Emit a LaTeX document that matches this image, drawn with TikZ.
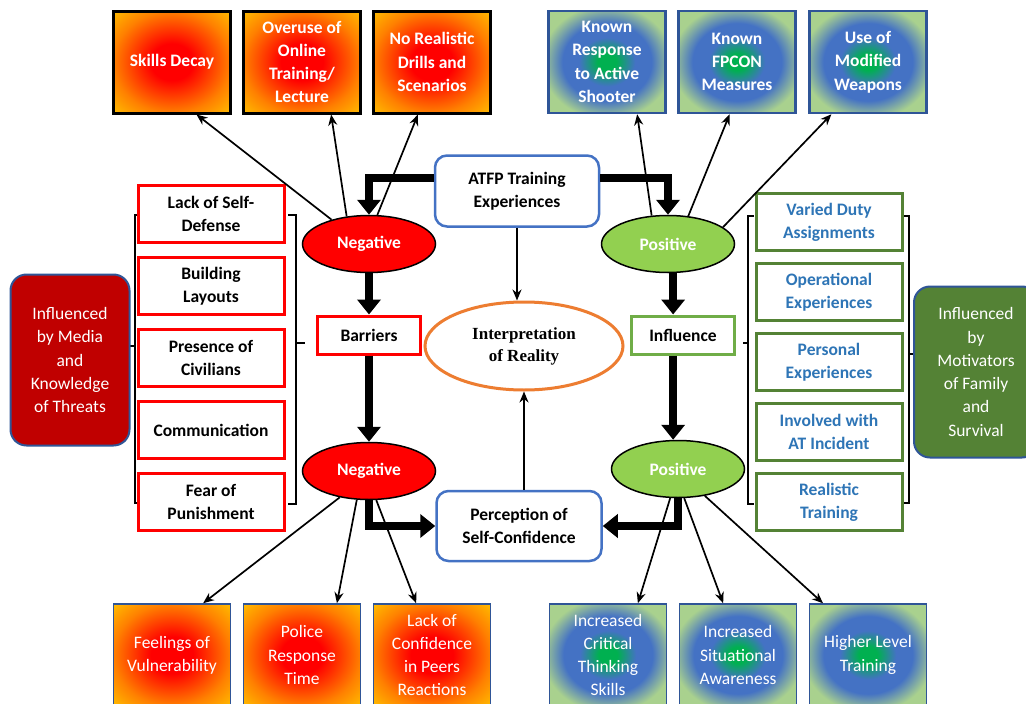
\documentclass[tikz,border=0pt]{standalone}
\usepackage{fontspec}
\setmainfont{Carlito}
\newfontfamily\interpfont{Liberation Serif}
\usepackage{tikz}
\usetikzlibrary{positioning}
\usetikzlibrary{arrows.meta}
\usetikzlibrary{shapes.geometric}
\usepackage{xcolor}

\definecolor{listred}{HTML}{FF0000}
\definecolor{negred}{HTML}{FF0000}
\definecolor{posgreen}{HTML}{92D050}
\definecolor{boxblue}{HTML}{4472C4}
\definecolor{edgeblue}{HTML}{2F5597}
\definecolor{interporange}{HTML}{ED7D31}
\definecolor{inflgreen}{HTML}{70AD47}
\definecolor{listgreen}{HTML}{548235}
\definecolor{listblue}{HTML}{2E75B6}
\definecolor{mediared}{HTML}{C00000}
\definecolor{familygreen}{HTML}{548235}
\definecolor{glowred}{HTML}{FF0000}
\definecolor{gloworange}{HTML}{FF8000}
\definecolor{glowyellow}{HTML}{FFC000}
\definecolor{glowgreen}{HTML}{00B050}
\definecolor{glowblue}{HTML}{4472C4}
\definecolor{glowlight}{HTML}{A9D18E}

\pgfdeclareradialshading{redglow}{\pgfpointorigin}{color(0bp)=(glowred); color(9bp)=(glowred); color(25bp)=(gloworange); color(36bp)=(glowyellow); color(50bp)=(glowyellow)}
\pgfdeclareradialshading{greenglow}{\pgfpointorigin}{color(0bp)=(glowgreen); color(4bp)=(glowgreen); color(12bp)=(glowblue); color(19bp)=(glowblue); color(28bp)=(glowlight); color(50bp)=(glowlight)}

\newcommand\diagfont{\fontsize{17.5}{23.3}\selectfont}

\begin{document}
\begin{tikzpicture}[x=1pt, y=-1pt,
redlist/.style={rectangle, draw=listred, line width=3pt, fill=white, minimum width=146pt, minimum height=57pt, align=center, font=\diagfont\bfseries},
greenlist/.style={rectangle, draw=listgreen, line width=3pt, fill=white, text=listblue, minimum width=146pt, minimum height=57pt, align=center, font=\diagfont\bfseries},
topred/.style={rectangle, shade, shading=redglow, draw=black, line width=3pt, minimum width=117pt, minimum height=102pt, align=center, text=white, font=\diagfont\bfseries},
topgreen/.style={rectangle, shade, shading=greenglow, draw=edgeblue, line width=2.5pt, minimum width=117pt, minimum height=102pt, align=center, text=white, font=\diagfont\bfseries},
lowred/.style={rectangle, shade, shading=redglow, draw=edgeblue, line width=1.5pt, minimum width=117pt, minimum height=102pt, align=center, text=white, font=\diagfont},
lowgreen/.style={rectangle, shade, shading=greenglow, draw=edgeblue, line width=1.5pt, minimum width=117pt, minimum height=102pt, align=center, text=white, font=\diagfont},
negoval/.style={ellipse, draw=black, line width=1.5pt, fill=negred, minimum width=133pt, minimum height=57pt, text=white, font=\diagfont\bfseries},
posoval/.style={ellipse, draw=black, line width=1.5pt, fill=posgreen, minimum width=133pt, minimum height=57pt, text=white, font=\diagfont\bfseries},
bluebox/.style={rectangle, rounded corners=12pt, draw=boxblue, line width=2.5pt, fill=white, minimum width=164pt, minimum height=71pt, align=center, font=\diagfont\bfseries},
stagebox/.style={rectangle, line width=3pt, fill=white, minimum width=103pt, minimum height=38pt, font=\diagfont\bfseries},
sidebox/.style={rectangle, rounded corners=16pt, draw=edgeblue, line width=2pt, minimum height=171pt, align=center, text=white, font=\diagfont},
bigarrow/.style={line width=8.5pt, -{Triangle[width=23pt, length=15pt]}},
thinarrow/.style={line width=1.7pt, -{Stealth[width=9pt, length=11pt]}},
bracket/.style={line width=1.3pt},
]
\path[use as bounding box, fill=white] (0,0) rectangle (1026,704);

%Brackets
\draw[bracket] (140,215) -- (135,215) -- (135,503) -- (140,503);
\draw[bracket] (135,346) -- (130,346);
\draw[bracket] (288,215) -- (296,215) -- (296,504) -- (288,504);
\draw[bracket] (296,343) -- (305,343);
\draw[bracket] (754,216) -- (748,216) -- (748,504) -- (754,504);
\draw[bracket] (748,343) -- (743,343);
\draw[bracket] (903,216) -- (909,216) -- (909,503) -- (903,503);
\draw[bracket] (909,354) -- (915,354);

%Nodes
\node[topred]   (skills)      at (172,62)  {Skills Decay};
\node[topred]   (overuse)     at (302,62)  {Overuse of\\Online\\Training/\\Lecture};
\node[topred]   (nodrills)    at (432,62)  {No Realistic\\Drills and\\Scenarios};
\node[topgreen] (knownresp)   at (607,62)  {Known\\Response\\to Active\\Shooter};
\node[topgreen] (fpcon)       at (737,62)  {Known\\FPCON\\Measures};
\node[topgreen] (modweap)     at (868,62)  {Use of\\Modified\\Weapons};

\node[bluebox]  (atfp)        at (517,191) {ATFP Training\\Experiences};
\node[negoval]  (negtop)      at (369,244) {Negative};
\node[posoval]  (postop)      at (668,244) {Positive};
\node[stagebox, draw=listred]   (barriers)  at (369,335) {Barriers};
\node[stagebox, draw=inflgreen] (influence) at (683,335) {Influence};
\node[ellipse, draw=interporange, line width=3pt, fill=white, minimum width=198pt, minimum height=88pt, align=center, font=\interpfont\fontsize{17}{22}\selectfont\bfseries]
                (interp)      at (524,346) {Interpretation\\of Reality};
\node[negoval]  (negbot)      at (369,471) {Negative};
\node[posoval]  (posbot)      at (678,469) {Positive};
\node[bluebox, minimum width=165pt, minimum height=70pt] (percep) at (519,526) {Perception of\\Self-Confidence};

\node[lowred]   (feelings)    at (172,655) {Feelings of\\Vulnerability};
\node[lowred]   (police)      at (302,655) {Police\\Response\\Time};
\node[lowred]   (peers)       at (432,655) {Lack of\\Confidence\\in Peers\\Reactions};
\node[lowgreen] (critical)    at (608,655) {Increased\\Critical\\Thinking\\Skills};
\node[lowgreen] (situational) at (738,655) {Increased\\Situational\\Awareness};
\node[lowgreen] (higher)      at (868,655) {Higher Level\\Training};

\node[sidebox, fill=mediared, minimum width=119pt]    (media)  at (70,360)  {Influenced\\by Media\\and\\Knowledge\\of Threats};
\node[sidebox, fill=familygreen, minimum width=124pt] (family) at (976,372) {Influenced\\by\\Motivators\\of Family\\and\\Survival};

\node[redlist]  (selfdef)     at (211,214)               {Lack of Self-\\Defense};
\node[redlist]  (layouts)     [below=12pt of selfdef]    {Building\\Layouts};
\node[redlist]  (civilians)   [below=12pt of layouts]    {Presence of\\Civilians};
\node[redlist]  (comm)        [below=12pt of civilians]  {Communication};
\node[redlist]  (punish)      [below=12pt of comm]       {Fear of\\Punishment};

\node[greenlist] (duty)        at (829,222)               {Varied Duty\\Assignments};
\node[greenlist] (operational) [below=10pt of duty]       {Operational\\Experiences};
\node[greenlist] (personal)    [below=10pt of operational] {Personal\\Experiences};
\node[greenlist] (incident)    [below=10pt of personal]   {Involved with\\AT Incident};
\node[greenlist] (realistic)   [below=10pt of incident]   {Realistic\\Training};

%Lines
\draw[bigarrow] (atfp.171) -| (negtop.north);
\draw[bigarrow] (atfp.9) -| (postop.north);
\draw[bigarrow] (negtop) -- (barriers);
\draw[bigarrow] (barriers) -- (negbot);
\draw[bigarrow] (postop.-80) -- (postop.-80 |- influence.north);
\draw[bigarrow] (influence.south -| postop.-80) -- (postop.-80 |- posbot.north);
\draw[bigarrow] (negbot.south) |- (percep.west);
\draw[bigarrow] (posbot.south) |- (percep.east);

\draw[thinarrow] (atfp.south) -- (atfp.south |- interp.north);
\draw[thinarrow] (percep.north -| interp.south) -- (interp.south);

\draw[thinarrow] (negtop.147) -- (skills.-65);
\draw[thinarrow] (negtop.129) -- (overuse.-61);
\draw[thinarrow] (negtop.74) -- (nodrills.-105);
\draw[thinarrow] (postop.120) -- (knownresp.-60);
\draw[thinarrow] (postop.54) -- (fpcon.-98);
\draw[thinarrow] (postop.17) -- (modweap.-125);

\draw[thinarrow] (negbot.-138) -- (feelings.59);
\draw[thinarrow] (negbot.-113) -- (police.56);
\draw[thinarrow] (negbot.-76) -- (peers.107);
\draw[thinarrow] (posbot.-105) -- (critical.60);
\draw[thinarrow] (posbot.-78) -- (situational.106);
\draw[thinarrow] (posbot.-45) -- (higher.131);
\end{tikzpicture}
\end{document}
